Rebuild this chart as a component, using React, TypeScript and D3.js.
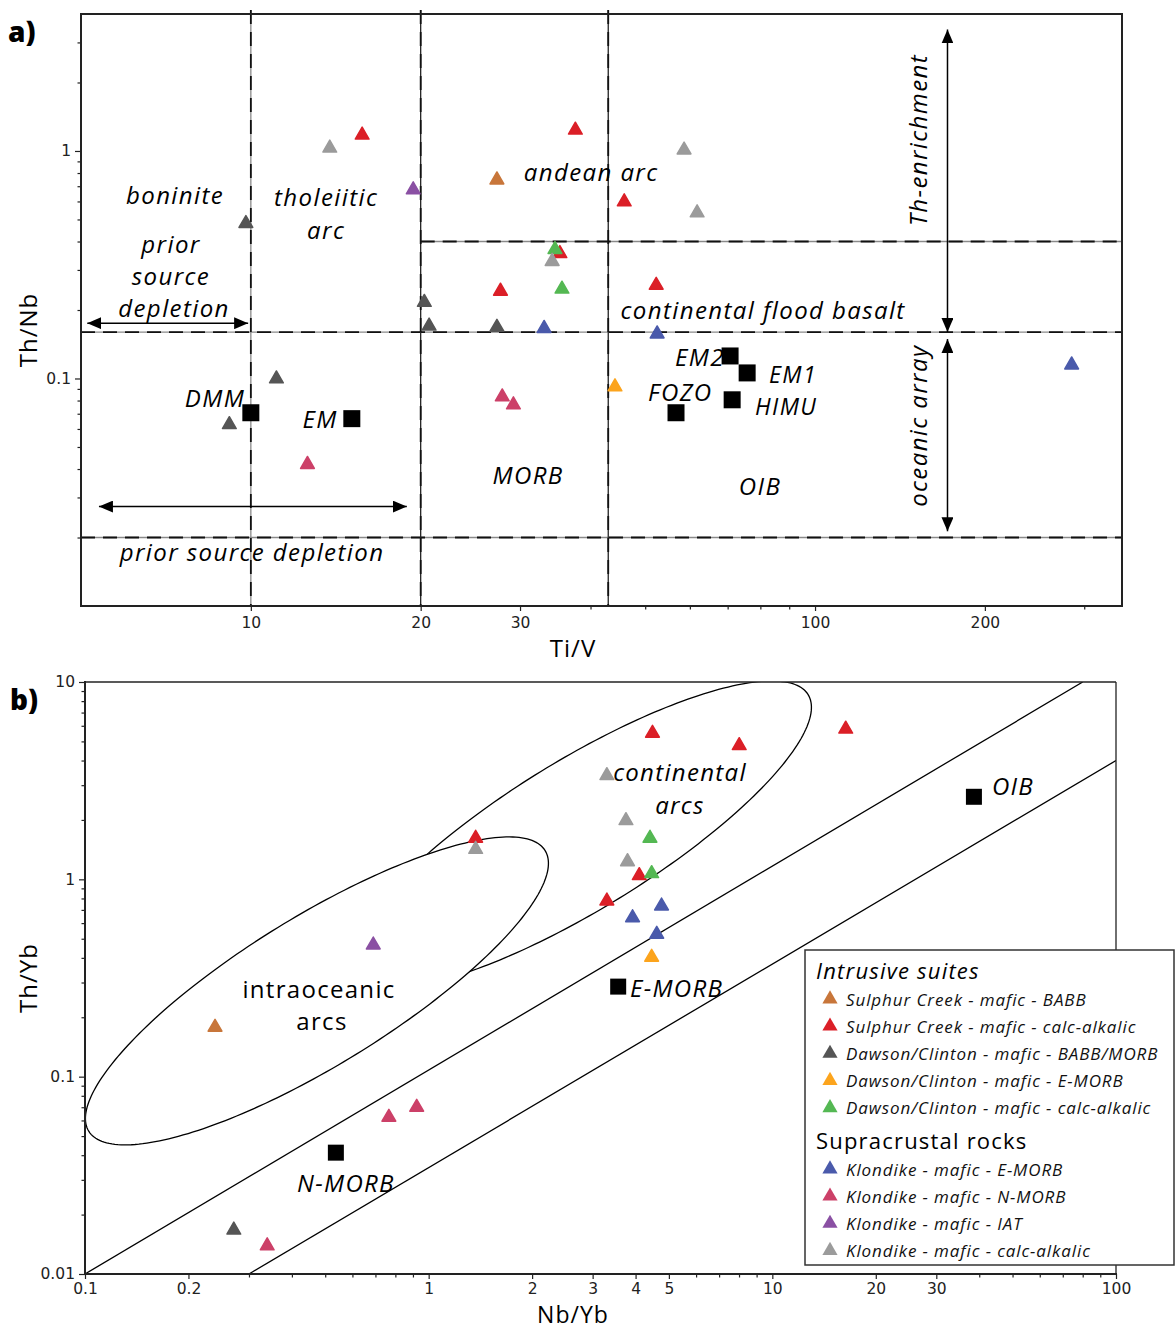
import React, { useEffect, useRef } from "react";
import * as d3 from "d3";

const W = 1175;
const H = 1330;
const FONT = "'Open Sans', Lato, sans-serif";
const TICK_FONT = "'DejaVu Sans', sans-serif";

// legend order is also draw order
const seriesNames = [
  "Sulphur Creek - mafic - BABB",
  "Sulphur Creek - mafic - calc-alkalic",
  "Dawson/Clinton - mafic - BABB/MORB",
  "Dawson/Clinton - mafic - E-MORB",
  "Dawson/Clinton - mafic - calc-alkalic",
  "Klondike - mafic - E-MORB",
  "Klondike - mafic - N-MORB",
  "Klondike - mafic - IAT",
  "Klondike - mafic - calc-alkalic",
];
const seriesColors = ["#c8763a", "#db1f27", "#555555", "#fca41d", "#54b853", "#4a5aab", "#cc4068", "#8a50a3", "#9b9b9b"];
const legendGroups = [
  { title: "Intrusive suites", italic: true, items: [0, 1, 2, 3, 4] },
  { title: "Supracrustal rocks", italic: false, items: [5, 6, 7, 8] },
];

// panel a : [Ti/V, Th/Nb]
const sulphurBabbA = [[27.3, 0.746]];
const sulphurCalcA = [[15.75, 1.175], [37.6, 1.235], [45.9, 0.598], [35.3, 0.354], [27.7, 0.242], [52.3, 0.257]];
const dawsonBabbA = [[9.8, 0.48], [20.3, 0.216], [20.7, 0.17], [27.3, 0.168], [11.1, 0.0996], [9.16, 0.0627]];
const dawsonEmorbA = [[44.2, 0.0919]];
const dawsonCalcA = [[34.6, 0.369], [35.6, 0.247]];
const klondikeEmorbA = [[33.1, 0.166], [52.5, 0.157], [285, 0.1147]];
const klondikeNmorbA = [[27.9, 0.083], [29.2, 0.0766], [12.6, 0.0419]];
const klondikeIatA = [[19.4, 0.675]];
const klondikeCalcA = [[13.8, 1.03], [58.6, 1.01], [61.8, 0.535], [34.2, 0.327]];
const panelAData = [sulphurBabbA, sulphurCalcA, dawsonBabbA, dawsonEmorbA, dawsonCalcA, klondikeEmorbA, klondikeNmorbA, klondikeIatA, klondikeCalcA];

// panel b : [Nb/Yb, Th/Yb]
const sulphurBabbB = [[0.239, 0.178]];
const sulphurCalcB = [[1.37, 1.616], [4.48, 5.5], [8.01, 4.76], [16.35, 5.77], [4.1, 1.044], [3.3, 0.777]];
const dawsonBabbB = [[0.271, 0.0167]];
const dawsonEmorbB = [[4.455, 0.403]];
const dawsonCalcB = [[4.405, 1.616], [4.455, 1.069]];
const klondikeEmorbB = [[4.76, 0.733], [3.92, 0.639], [4.61, 0.527]];
const klondikeNmorbB = [[0.766, 0.0623], [0.923, 0.07], [0.339, 0.0139]];
const klondikeIatB = [[0.69, 0.465]];
const klondikeCalcB = [[1.37, 1.42], [3.3, 3.354], [3.75, 1.984], [3.79, 1.229]];
const panelBData = [sulphurBabbB, sulphurCalcB, dawsonBabbB, dawsonEmorbB, dawsonCalcB, klondikeEmorbB, klondikeNmorbB, klondikeIatB, klondikeCalcB];

// reference compositions
const mantleNames = ["DMM", "EM", "EM2", "EM1", "HIMU", "FOZO"];
const mantleTiV = [10.0, 15.1, 70.7, 75.8, 71.3, 56.7];
const mantleThNb = [0.0707, 0.0666, 0.1256, 0.1058, 0.0806, 0.0707];
const basaltNames = ["N-MORB", "E-MORB", "OIB"];
const basaltNbYb = [0.537, 3.56, 38.6];
const basaltThYb = [0.0412, 0.286, 2.62];

// panel a field boundaries
const tiVBounds = [10, 20, 43];
const thNbBounds = [0.4, 0.16, 0.02];
const thNbBoundStart = [20, 5, 5];

// panel a labels [text, Ti/V, Th/Nb, anchor, rotate, size]
const panelALabels: [string, number, number, string, boolean, number][] = [
  ["boninite", 7.34, 0.642, "middle", false, 24],
  ["tholeiitic", 13.6, 0.629, "middle", false, 24],
  ["arc", 13.6, 0.451, "middle", false, 24],
  ["prior", 7.22, 0.392, "middle", false, 24],
  ["source", 7.22, 0.284, "middle", false, 24],
  ["depletion", 7.31, 0.2056, "middle", false, 24],
  ["andean arc", 40.1, 0.809, "middle", false, 24],
  ["continental flood basalt", 80.9, 0.2016, "middle", false, 24],
  ["DMM", 9.77, 0.0823, "end", false, 24],
  ["EM", 13.27, 0.0666, "middle", false, 24],
  ["MORB", 31.0, 0.0379, "middle", false, 24],
  ["EM2", 62.5, 0.1243, "middle", false, 24],
  ["EM1", 91.4, 0.1045, "middle", false, 23],
  ["FOZO", 57.7, 0.0874, "middle", false, 24],
  ["HIMU", 88.9, 0.0755, "middle", false, 23],
  ["OIB", 79.9, 0.0339, "middle", false, 24],
  ["prior source depletion", 10.05, 0.01743, "middle", false, 24],
  ["Th-enrichment", 152.2, 1.117, "middle", true, 24],
  ["oceanic array", 152.2, 0.062, "middle", true, 24],
];

// arrows [x1, y1, x2, y2] in Ti/V, Th/Nb
const panelAArrows = [
  [5.13, 0.175, 9.89, 0.175],
  [5.38, 0.02735, 18.9, 0.02735],
  [171.7, 3.42, 171.7, 0.16],
  [171.7, 0.149, 171.7, 0.0213],
];

// panel b: MORB-OIB array and arc fields
const arrayLines = [
  [[0.1, 0.01], [80, 10]],
  [[0.3, 0.01], [100, 4]],
];
const continentalArcCenter = [2.755, 1.679];
const intraoceanicArcCenter = [0.473, 0.272];
const fieldMajorAxis = [0.664, 0.711]; // log10 units
const fieldMinorAxis = [0.1136, -0.3216];

// panel b labels [text, Nb/Yb, Th/Yb, anchor, italic]
const panelBLabels: [string, number, number, string, boolean][] = [
  ["continental", 5.385, 3.5, "middle", true],
  ["arcs", 5.385, 2.383, "middle", true],
  ["intraoceanic", 0.4796, 0.2783, "middle", false],
  ["arcs", 0.4894, 0.1916, "middle", false],
  ["E-MORB", 3.852, 0.2815, "start", true],
  ["N-MORB", 0.5745, 0.02925, "middle", true],
  ["OIB", 43.55, 2.975, "start", true],
];

const range = (a: number, b: number, s = 1) => d3.range(a, b + s / 2, s);

const App = () => {
  const svgRef = useRef<SVGSVGElement>(null);

  useEffect(() => {
    const svg = d3.select(svgRef.current);
    svg.selectAll("*").remove();
    svg.attr("width", W).attr("height", H).style("background", "#fff");

    const defs = svg.append("defs");
    defs.append("marker")
      .attr("id", "head")
      .attr("viewBox", "0 0 14 12")
      .attr("refX", 14).attr("refY", 6)
      .attr("markerWidth", 14).attr("markerHeight", 12)
      .attr("markerUnits", "userSpaceOnUse")
      .attr("orient", "auto-start-reverse")
      .append("path").attr("d", "M0,0 L14,6 L0,12 Z").attr("fill", "#000");

    const tri = d3.symbol(d3.symbolTriangle, 82)();

    const drawAxes = (g, x, y, xMajor, xMinor, yMajor, yMinor, xFmt, yFmt, bottom, left, pad) => {
      const ax = g.append("g").attr("transform", `translate(0,${bottom})`);
      ax.call(d3.axisBottom(x).tickValues(xMajor).tickFormat(xFmt).tickSize(5).tickPadding(pad).tickSizeOuter(0));
      ax.append("g").call(d3.axisBottom(x).tickValues(xMinor).tickFormat(() => "").tickSize(3.5).tickSizeOuter(0));
      const ay = g.append("g").attr("transform", `translate(${left},0)`);
      ay.call(d3.axisLeft(y).tickValues(yMajor).tickFormat(yFmt).tickSize(6).tickPadding(4).tickSizeOuter(0));
      ay.append("g").call(d3.axisLeft(y).tickValues(yMinor).tickFormat(() => "").tickSize(3.5).tickSizeOuter(0));
      g.selectAll(".domain").remove();
      g.selectAll(".tick line").attr("stroke", "#222").attr("stroke-width", 1.2);
      g.selectAll(".tick text").attr("font-family", TICK_FONT).attr("font-size", 15.5).attr("fill", "#222");
    };

    const fmt = (d) => String(d);

    // ================= panel a =================
    const ga = svg.append("g");
    const xA = d3.scaleLog().domain([5, 350]).range([81, 1122]);
    const yA = d3.scaleLog().domain([0.01, 4]).range([606, 14]);

    drawAxes(ga, xA, yA,
      [10, 20, 30, 100, 200], [40, 50, 60, 70, 80, 90, 300],
      [0.1, 1], [...range(0.02, 0.09, 0.01), ...range(0.2, 0.9, 0.1), 2, 3],
      fmt, fmt, 606, 81, 6);

    // boundaries: grey base + black dashes
    const dashLine = (x1, y1, x2, y2, base) => {
      ga.append("line").attr("x1", x1).attr("y1", y1).attr("x2", x2).attr("y2", y2)
        .attr("stroke", base).attr("stroke-width", 1.3);
      ga.append("line").attr("x1", x1).attr("y1", y1).attr("x2", x2).attr("y2", y2)
        .attr("stroke", "#111").attr("stroke-width", 1.8).attr("stroke-dasharray", "14 8");
    };
    thNbBounds.forEach((v, i) => dashLine(xA(thNbBoundStart[i]), yA(v), xA(350), yA(v), "#8a8a8a"));
    tiVBounds.forEach((v, i) => dashLine(xA(v), yA(4) - 4, xA(v), yA(0.01), i === 0 ? "#8a8a8a" : "#222"));

    ga.append("rect").attr("x", 81).attr("y", 14).attr("width", 1041).attr("height", 592)
      .attr("fill", "none").attr("stroke", "#222").attr("stroke-width", 2);

    panelAArrows.forEach(([x1, y1, x2, y2]) => {
      ga.append("line")
        .attr("x1", xA(x1)).attr("y1", yA(y1)).attr("x2", xA(x2)).attr("y2", yA(y2))
        .attr("stroke", "#000").attr("stroke-width", 1.5)
        .attr("marker-start", "url(#head)").attr("marker-end", "url(#head)");
    });

    panelALabels.forEach(([t, x, y, anchor, rot, size]) => {
      const px = xA(x);
      const py = yA(y);
      ga.append("text")
        .attr("x", px).attr("y", py)
        .attr("transform", rot ? `rotate(-90,${px},${py})` : null)
        .attr("text-anchor", anchor).attr("dominant-baseline", "central")
        .attr("font-family", FONT).attr("font-style", "italic").attr("font-size", size)
        .attr("letter-spacing", 1.4)
        .attr("fill", "#000").text(t);
    });

    mantleNames.forEach((n, i) => {
      ga.append("path").attr("d", d3.symbol(d3.symbolSquare, 289)())
        .attr("transform", `translate(${xA(mantleTiV[i])},${yA(mantleThNb[i])})`)
        .attr("fill", "#000");
    });

    panelAData.forEach((pts, si) => {
      ga.selectAll(null).data(pts).enter().append("path")
        .attr("d", tri)
        .attr("transform", (d) => `translate(${xA(d[0])},${yA(d[1])})`)
        .attr("fill", seriesColors[si]).attr("stroke", seriesColors[si])
        .attr("stroke-width", 1.5).attr("stroke-linejoin", "round");
    });

    ga.append("text").attr("x", 573).attr("y", 657).attr("text-anchor", "middle")
      .attr("font-family", FONT).attr("font-size", 24).attr("letter-spacing", 1).text("Ti/V");
    ga.append("text").attr("transform", "translate(37,330) rotate(-90)").attr("text-anchor", "middle")
      .attr("font-family", FONT).attr("font-size", 24).attr("letter-spacing", 1).text("Th/Nb");
    ga.append("text").attr("x", 8).attr("y", 42).attr("font-family", FONT).attr("font-weight", 800)
      .attr("font-size", 28).text("a)");

    // ================= panel b =================
    const gb = svg.append("g");
    const xB = d3.scaleLog().domain([0.1, 100]).range([85, 1116]);
    const yB = d3.scaleLog().domain([0.01, 10]).range([1274, 682]);

    drawAxes(gb, xB, yB,
      [0.1, 0.2, 1, 2, 3, 4, 5, 10, 20, 30, 100],
      [...range(0.3, 0.9, 0.1), 6, 7, 8, 9, ...range(40, 90, 10)],
      [0.01, 0.1, 1, 10],
      [...range(0.02, 0.09, 0.01), ...range(0.2, 0.9, 0.1), ...range(2, 9, 1)],
      fmt, fmt, 1274, 85, 4);

    defs.append("clipPath").attr("id", "clipB")
      .append("rect").attr("x", 85).attr("y", 682).attr("width", 1031).attr("height", 592);
    const plotB = gb.append("g").attr("clip-path", "url(#clipB)");

    arrayLines.forEach(([p, q]) => {
      plotB.append("line").attr("x1", xB(p[0])).attr("y1", yB(p[1]))
        .attr("x2", xB(q[0])).attr("y2", yB(q[1]))
        .attr("stroke", "#000").attr("stroke-width", 1.3);
    });

    const ellipse = (c) => {
      const ts = d3.range(0, 2 * Math.PI, Math.PI / 120);
      const lx = Math.log10(c[0]);
      const ly = Math.log10(c[1]);
      return d3.line().curve(d3.curveLinearClosed)(ts.map((t) => [
        xB(10 ** (lx + Math.cos(t) * fieldMajorAxis[0] + Math.sin(t) * fieldMinorAxis[0])),
        yB(10 ** (ly + Math.cos(t) * fieldMajorAxis[1] + Math.sin(t) * fieldMinorAxis[1])),
      ]));
    };
    plotB.append("path").attr("d", ellipse(continentalArcCenter))
      .attr("fill", "none").attr("stroke", "#000").attr("stroke-width", 1.3);
    plotB.append("path").attr("d", ellipse(intraoceanicArcCenter))
      .attr("fill", "#fff").attr("stroke", "#000").attr("stroke-width", 1.3);

    gb.append("line").attr("x1", 85).attr("y1", 682).attr("x2", 1116).attr("y2", 682).attr("stroke", "#222").attr("stroke-width", 1.3);
    gb.append("line").attr("x1", 1116).attr("y1", 682).attr("x2", 1116).attr("y2", 1274).attr("stroke", "#222").attr("stroke-width", 1.3);
    gb.append("line").attr("x1", 85).attr("y1", 681).attr("x2", 85).attr("y2", 1275).attr("stroke", "#222").attr("stroke-width", 2);
    gb.append("line").attr("x1", 84).attr("y1", 1274).attr("x2", 1117).attr("y2", 1274).attr("stroke", "#222").attr("stroke-width", 2);

    panelBLabels.forEach(([t, x, y, anchor, it]) => {
      gb.append("text").attr("x", xB(x)).attr("y", yB(y))
        .attr("text-anchor", anchor).attr("dominant-baseline", "central")
        .attr("font-family", FONT).attr("font-style", it ? "italic" : "normal").attr("font-size", 24)
        .attr("letter-spacing", 1.3)
        .text(t);
    });

    basaltNames.forEach((n, i) => {
      gb.append("path").attr("d", d3.symbol(d3.symbolSquare, 256)())
        .attr("transform", `translate(${xB(basaltNbYb[i])},${yB(basaltThYb[i])})`)
        .attr("fill", "#000");
    });

    panelBData.forEach((pts, si) => {
      gb.selectAll(null).data(pts).enter().append("path")
        .attr("d", tri)
        .attr("transform", (d) => `translate(${xB(d[0])},${yB(d[1])})`)
        .attr("fill", seriesColors[si]).attr("stroke", seriesColors[si])
        .attr("stroke-width", 1.5).attr("stroke-linejoin", "round");
    });

    gb.append("text").attr("x", 573).attr("y", 1323).attr("text-anchor", "middle")
      .attr("font-family", FONT).attr("font-size", 23).attr("letter-spacing", 1).text("Nb/Yb");
    gb.append("text").attr("transform", "translate(37,978) rotate(-90)").attr("text-anchor", "middle")
      .attr("font-family", FONT).attr("font-size", 24).attr("letter-spacing", 1).text("Th/Yb");
    gb.append("text").attr("x", 10).attr("y", 710).attr("font-family", FONT).attr("font-weight", 800)
      .attr("font-size", 28).text("b)");

    // legend
    const lg = svg.append("g");
    lg.append("rect").attr("x", 805).attr("y", 950).attr("width", 369).attr("height", 315)
      .attr("fill", "#fff").attr("stroke", "#333").attr("stroke-width", 1.5);
    let yy = 970;
    legendGroups.forEach((grp) => {
      lg.append("text").attr("x", 816).attr("y", yy).attr("dominant-baseline", "central")
        .attr("font-family", FONT).attr("font-style", grp.italic ? "italic" : "normal")
        .attr("font-size", 22).attr("letter-spacing", 1.2).text(grp.title);
      yy += 29;
      grp.items.forEach((si) => {
        lg.append("path").attr("d", d3.symbol(d3.symbolTriangle, 100)())
          .attr("transform", `translate(830,${yy})`).attr("fill", seriesColors[si]);
        lg.append("text").attr("x", 846).attr("y", yy).attr("dominant-baseline", "central")
          .attr("font-family", FONT).attr("font-style", "italic").attr("font-size", 17)
          .attr("letter-spacing", 0.9)
          .attr("fill", "#111").text(seriesNames[si]);
        yy += 27.2;
      });
      yy += 5;
    });
  }, []);

  return (
    <div style={{ position: "absolute", left: 0, top: 0 }}>
      <svg ref={svgRef}></svg>
    </div>
  );
};

export default App;
